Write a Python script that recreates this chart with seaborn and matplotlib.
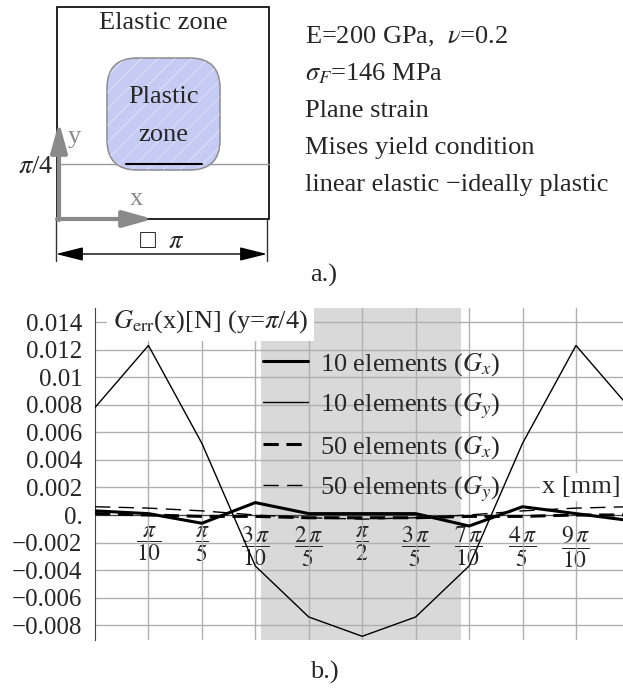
import numpy as np
import matplotlib
matplotlib.use("Agg")
import matplotlib.pyplot as plt
from matplotlib.lines import Line2D
from matplotlib.patches import Rectangle, FancyBboxPatch
import seaborn as sns

# Data: error at y = pi/4, read at stations x = k*pi/10
X_STATIONS = [0.0, 0.1, 0.2, 0.3, 0.4, 0.5, 0.6, 0.7, 0.8, 0.9, 1.0]  # in units of pi
GX_10 = [0.0003, 0.0001, -0.0006, 0.0009, 0.0001, 0.0001, 0.0001, -0.0008, 0.0006, 0.0001, -0.0004]
GY_10 = [0.0078, 0.0123, 0.0052, -0.0037, -0.0074, -0.0088, -0.0074, -0.0037, 0.0052, 0.0123, 0.0078]
GX_50 = [0.0001, 0.0000, -0.0001, -0.0001, -0.0002, -0.0002, -0.0002, -0.0001, -0.0001, 0.0000, 0.0000]
GY_50 = [0.0006, 0.0005, 0.0003, 0.0000, -0.0002, -0.0003, -0.0002, 0.0000, 0.0003, 0.0005, 0.0006]

SERIES_LABELS = [r"10 elements ($G_x$)", r"10 elements ($G_y$)",
                 r"50 elements ($G_x$)", r"50 elements ($G_y$)"]
SERIES_STYLE = [dict(lw=2.2, ls="-"), dict(lw=1.0, ls="-"),
                dict(lw=2.2, ls=(0, (5, 2.5))), dict(lw=1.0, ls=(0, (11, 6)))]

Y_TICKS = [-0.008, -0.006, -0.004, -0.002, 0.0, 0.002, 0.004, 0.006, 0.008, 0.01, 0.012, 0.014]
Y_TICK_LABELS = ["\u22120.008", "\u22120.006", "\u22120.004", "\u22120.002", "0.", "0.002",
                 "0.004", "0.006", "0.008", "0.01", "0.012", "0.014"]
X_TICK_K = [1, 2, 3, 4, 5, 6, 7, 8, 9]
X_TICK_LABELS = [r"$\dfrac{\pi}{10}$", r"$\dfrac{\pi}{5}$", r"$\dfrac{3\,\pi}{10}$",
                 r"$\dfrac{2\,\pi}{5}$", r"$\dfrac{\pi}{2}$", r"$\dfrac{3\,\pi}{5}$",
                 r"$\dfrac{7\,\pi}{10}$", r"$\dfrac{4\,\pi}{5}$", r"$\dfrac{9\,\pi}{10}$"]
PLASTIC_RANGE = [0.311, 0.685]  # in units of pi

MATERIAL_LINES = [r"E=200 GPa,  $\nu$=0.2", r"$\sigma_F$=146 MPa", "Plane strain",
                  "Mises yield condition", "linear elastic \u2212ideally plastic"]

sns.set_style("white")
plt.rcParams["font.family"] = ["Liberation Serif", "DejaVu Sans"]
plt.rcParams["mathtext.fontset"] = "stix"

FS = 19
W, H = 623, 689
fig = plt.figure(figsize=(W / 100, H / 100), dpi=100)

# ---- panel a.) sketch, drawn in pixel coordinates
sk = fig.add_axes([0, 0, 1, 1])
sk.set_xlim(0, W)
sk.set_ylim(H, 0)
sk.axis("off")

GRAY = "#8a8a8a"
sk.add_patch(Rectangle((57, 7), 212, 212, fill=False, ec="black", lw=1.2))
sk.plot([57, 269], [164, 164], color="#999999", lw=1)
zone = FancyBboxPatch((107, 58), 113, 112, boxstyle="round,pad=0,rounding_size=30",
                      fc="#c6cbf3", ec="#8c8c8c", lw=1.1, zorder=2)
sk.add_patch(zone)
sk.add_patch(FancyBboxPatch((107, 58), 113, 112, boxstyle="round,pad=0,rounding_size=30",
                            fc="none", ec=(1, 1, 1, 0.3), lw=0, hatch="//", zorder=2))
sk.plot([126, 202], [164, 164], color="black", lw=1.5, zorder=3)
sk.annotate("", xy=(59, 122), xytext=(59, 220),
            arrowprops=dict(arrowstyle="-|>,head_length=0.9,head_width=0.25", lw=3,
                            color=GRAY, shrinkA=0, shrinkB=0, mutation_scale=20))
sk.annotate("", xy=(153, 219), xytext=(57, 219),
            arrowprops=dict(arrowstyle="-|>,head_length=0.9,head_width=0.25", lw=3,
                            color=GRAY, shrinkA=0, shrinkB=0, mutation_scale=20))
sk.text(74, 137, "y", color=GRAY, fontsize=FS, ha="center", va="center")
sk.text(136, 199, "x", color=GRAY, fontsize=FS, ha="center", va="center")
sk.text(53, 167, r"$\pi$/4", fontsize=FS, ha="right", va="center")
sk.text(163, 23, "Elastic zone", fontsize=FS, ha="center", va="center")
sk.text(163, 97, "Plastic", fontsize=FS, ha="center", va="center", zorder=4)
sk.text(163, 135, "zone", fontsize=FS, ha="center", va="center", zorder=4)

sk.plot([56, 56], [219, 261], color="#333333", lw=1)
sk.plot([267, 267], [219, 261], color="#333333", lw=1)
sk.annotate("", xy=(56, 254), xytext=(267, 254),
            arrowprops=dict(arrowstyle="<|-|>,head_length=1.2,head_width=0.3", lw=1,
                            color="black", shrinkA=0, shrinkB=0, mutation_scale=14))
sk.text(162, 242, "\u25a1  $\\pi$", fontsize=FS, ha="center", va="center",
        family=["Liberation Serif", "DejaVu Sans"])

for i, line in enumerate(MATERIAL_LINES):
    sk.text(305, [37, 74, 111, 148, 185][i], line, fontsize=FS, ha="left", va="center")
sk.text(324, 275, "a.)", fontsize=FS, ha="center", va="center")
sk.text(324, 672, "b.)", fontsize=FS, ha="center", va="center")

# ---- panel b.) error plot
ax = fig.add_axes([95 / W, 1 - 640 / H, (W - 95) / W, (640 - 308) / H])
ax.patch.set_alpha(0)
x_vals = np.array(X_STATIONS) * np.pi
ax.axvspan(PLASTIC_RANGE[0] * np.pi, PLASTIC_RANGE[1] * np.pi, color="#d9d9d9", lw=0, zorder=0)
for k in X_TICK_K:
    ax.axvline(k * np.pi / 10, color="#b0b0b0", lw=1, zorder=1)
for yt in Y_TICKS:
    ax.axhline(yt, color="#b0b0b0", lw=1, zorder=1)

for vals, style in zip([GX_10, GY_10, GX_50, GY_50], SERIES_STYLE):
    sns.lineplot(x=x_vals, y=vals, ax=ax, color="black", linewidth=style["lw"],
                 linestyle=style["ls"], zorder=3)

ax.set_xlim(0, 0.988 * np.pi)
ax.set_ylim(-0.00907, 0.01502)
for s in ["top", "right"]:
    ax.spines[s].set_visible(False)
ax.spines["bottom"].set_position(("data", 0))
ax.spines["bottom"].set_color("#444444")
ax.spines["left"].set_color("#444444")
ax.spines["bottom"].set_zorder(2)
ax.set_yticks(Y_TICKS)
ax.set_yticklabels(Y_TICK_LABELS, fontsize=18)
ax.set_xticks([k * np.pi / 10 for k in X_TICK_K])
ax.set_xticklabels(X_TICK_LABELS, fontsize=17)
ax.tick_params(axis="y", direction="in", length=6, color="#444444", pad=9)
ax.tick_params(axis="x", direction="inout", length=8, color="#444444", pad=3)
ax.set_xlabel("")
ax.set_ylabel("")

ax.text(0.034, 0.958, r"$G_{\mathrm{err}}$(x)[N] (y=$\pi$/4)", transform=ax.transAxes,
        fontsize=FS, ha="left", va="center", zorder=5,
        bbox=dict(boxstyle="square,pad=0.22", fc="white", ec="none"))
ax.text(0.847, 0.461, "x [mm]", transform=ax.transAxes, fontsize=FS, ha="left",
        va="center", zorder=5, bbox=dict(boxstyle="square,pad=0.1", fc="white", ec="none"))

handles = [Line2D([], [], color="black", lw=s["lw"], ls=s["ls"]) for s in SERIES_STYLE]
leg = ax.legend(handles, SERIES_LABELS, loc="center left", bbox_to_anchor=(0.318, 0.64),
                frameon=False, fontsize=FS, handlelength=1.7, handletextpad=0.45,
                labelspacing=0.51, borderpad=0, borderaxespad=0)
leg.set_zorder(6)

fig.savefig("out.png", dpi=100)
